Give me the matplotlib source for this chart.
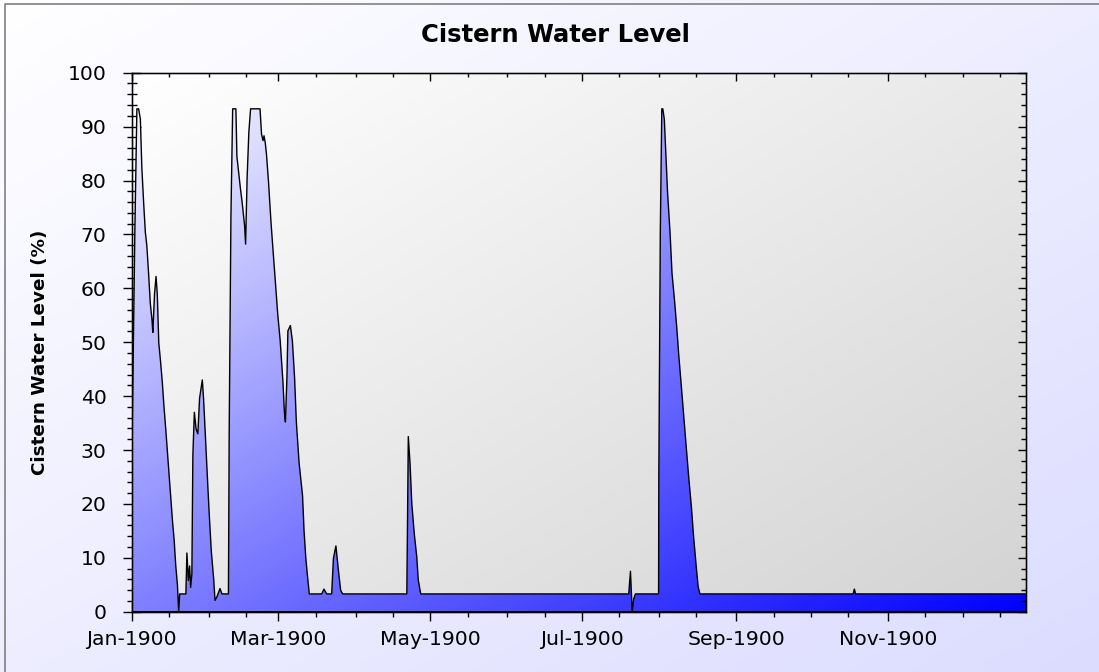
import numpy as np
import matplotlib
matplotlib.use('Agg')
import matplotlib.pyplot as plt
import matplotlib.dates as mdates
from matplotlib.ticker import MultipleLocator
from matplotlib.lines import Line2D

# days since 1 Jan 1900 and cistern level (%)
day_offsets = [0.0, 1.3, 2.1, 2.8, 3.5, 4.1, 4.8, 5.5, 6.1, 6.8, 7.5, 8.2, 8.5,
               9.2, 9.8, 10.3, 10.9, 11.6, 12.3, 13.0, 13.7, 14.4, 15.0, 15.7,
               16.4, 17.1, 17.7, 18.4, 18.9, 19.3, 21.8, 22.2, 22.8, 23.3, 23.7,
               24.2, 24.6, 25.2, 25.9, 26.6, 27.3, 28.4, 28.9, 29.5, 30.3, 31.1,
               32.0, 33.0, 33.5, 34.3, 35.5, 36.3, 38.9, 39.2, 39.9, 40.6, 41.9,
               42.3, 43.7, 44.4, 45.4, 45.8, 46.4, 47.1, 47.8, 51.6, 52.2, 52.8,
               53.2, 53.7, 54.2, 55.0, 56.0, 56.9, 57.7, 58.7, 59.7, 60.8, 61.4,
               61.8, 62.4, 62.8, 63.8, 64.6, 65.5, 66.2, 67.3, 68.7, 69.3, 70.0,
               70.6, 71.4, 76.4, 77.3, 78.4, 80.4, 81.1, 82.1, 83.1, 84.0, 84.8,
               110.6, 110.9, 111.2, 111.9, 112.6, 113.6, 114.6, 115.2, 116.2,
               199.8, 200.5, 201.2, 201.8, 202.5, 211.8, 211.9, 212.5, 213.1,
               213.5, 214.1, 214.8, 215.4, 216.4, 217.2, 218.2, 219.1, 219.9,
               220.9, 221.9, 223.0, 224.0, 225.0, 225.9, 227.0, 227.7, 228.4,
               290.0, 290.5, 291.0, 359.5]
water_level = [26, 71, 93.3, 93.3, 91.4, 82.3, 76, 70.4, 67.9, 62.8, 57.2, 54, 51.8,
               59, 62.2, 59, 49.9, 46.5, 42.7, 38, 33.9, 29.5, 25.7, 21.3,
               16.9, 13.2, 8.7, 5, 0, 3.3, 3.3, 10.9, 5.8, 8.5, 4.5,
               7, 29, 37, 33.9, 33, 39.6, 43, 39.6, 33.9, 26.3, 18.8,
               11.3, 5.9, 2.1, 2.8, 4.3, 3.3, 3.3, 33, 73.2, 93.3, 93.3,
               84.5, 78.6, 76, 71.6, 68.2, 80.4, 88.9, 93.3, 93.3, 88.6, 87.4,
               88.3, 87, 84.8, 79.8, 72.3, 66.6, 61.6, 55.3, 50.3, 42.7, 37,
               35.2, 43.3, 52.1, 53.1, 50.3, 43.3, 35.2, 27.6, 21.5, 15, 10,
               7, 3.3, 3.3, 4.2, 3.3, 3.3, 9.9, 12.2, 7.7, 4, 3.3,
               3.3, 17.6, 32.5, 27.5, 20.1, 14.5, 10.2, 5.9, 3.3,
               3.3, 7.5, 0, 2.4, 3.3, 3.3, 25.4, 70.7, 93.3,
               93.3, 91.4, 84.2, 77.9, 70.4, 62.8, 57.8, 52.8, 47.7,
               42.1, 36.4, 30.1, 24.5, 19.4, 13.8, 8.1, 4.7, 3.3,
               3.3, 4.2, 3.3, 3.3]


def diag_gradient(c0, c1, n=256):
    xx, yy = np.meshgrid(np.linspace(0, 1, n), np.linspace(0, 1, n))
    t = ((xx + yy) / 2)[..., None]
    c0 = np.array(c0) / 255.0
    c1 = np.array(c1) / 255.0
    return c0 + (c1 - c0) * t


plt.rcParams['font.family'] = 'DejaVu Sans'

fig = plt.figure(figsize=(10.99, 6.72), dpi=100)

# figure background
bg = fig.add_axes([0, 0, 1, 1])
bg.imshow(diag_gradient((255, 255, 255), (220, 220, 255)), aspect='auto',
          extent=[0, 1, 0, 1])
bg.set_xlim(0, 1)
bg.set_ylim(0, 1)
bg.axis('off')
bg.add_line(Line2D([5 / 1099, 5 / 1099, 1], [0, 1 - 4 / 672, 1 - 4 / 672],
                   color='#808080', lw=1.2))

ax = fig.add_axes([0.1198, 0.0897, 0.8138, 0.8021])
ax.patch.set_visible(False)

start = mdates.date2num(np.datetime64('1900-01-01'))
x = start + np.array(day_offsets)
x0, x1 = start, start + day_offsets[-1]

# plot area background
ax.imshow(diag_gradient((255, 255, 255), (211, 211, 211)), aspect='auto',
          extent=[x0, x1, 0, 100], zorder=0)

# area with gradient fill
area = ax.fill_between(x, water_level, 0, facecolor='none', edgecolor='black',
                       lw=1.0, zorder=3)
fill_img = ax.imshow(diag_gradient((255, 255, 255), (0, 0, 255)), aspect='auto',
                     extent=[x0, x1, 0, 100], zorder=2)
fill_img.set_clip_path(area.get_paths()[0], transform=ax.transData)

ax.set_xlim(x0, x1)
ax.set_ylim(0, 100)

ax.xaxis.set_major_locator(mdates.MonthLocator(bymonth=[1, 3, 5, 7, 9, 11]))
ax.xaxis.set_major_formatter(mdates.DateFormatter('%b-%Y'))
ax.xaxis.set_minor_locator(mdates.DayLocator(bymonthday=[1, 16]))
ax.yaxis.set_major_locator(MultipleLocator(10))
ax.yaxis.set_minor_locator(MultipleLocator(2))

ax.tick_params(axis='x', which='major', direction='inout', length=13.5, width=1,
               labelsize=14.7, pad=6.5)
ax.tick_params(axis='x', which='minor', direction='out', length=3.5, width=1)
ax.tick_params(axis='y', which='major', direction='inout', length=13, width=1,
               labelsize=14.7, pad=11.5)
ax.tick_params(axis='y', which='minor', direction='inout', length=6.5, width=1)

for s in ax.spines.values():
    s.set_linewidth(1.0)
    s.set_zorder(4)

# inward ticks on top and right
top = ax.twiny()
top.set_xlim(x0, x1)
top.xaxis.set_major_locator(mdates.MonthLocator(bymonth=[1, 3, 5, 7, 9, 11]))
top.xaxis.set_minor_locator(mdates.DayLocator(bymonthday=[1, 16]))
top.tick_params(axis='x', which='major', direction='in', length=6, width=1,
                labeltop=False)
top.tick_params(axis='x', which='minor', direction='in', length=3, width=1)

right = ax.twinx()
right.set_ylim(0, 100)
right.yaxis.set_major_locator(MultipleLocator(10))
right.yaxis.set_minor_locator(MultipleLocator(2))
right.tick_params(axis='y', which='major', direction='in', length=6, width=1,
                  labelright=False)
right.tick_params(axis='y', which='minor', direction='in', length=3.3, width=1)

fig.text(40 / 1099, 1 - 352 / 672, 'Cistern Water Level (%)', rotation=90,
         ha='center', va='center', fontsize=13.2, fontweight='bold')
fig.text(555 / 1099, 1 - 35 / 672, 'Cistern Water Level', ha='center',
         va='center', fontsize=17.5, fontweight='bold')

fig.savefig('out.png', dpi=100)
